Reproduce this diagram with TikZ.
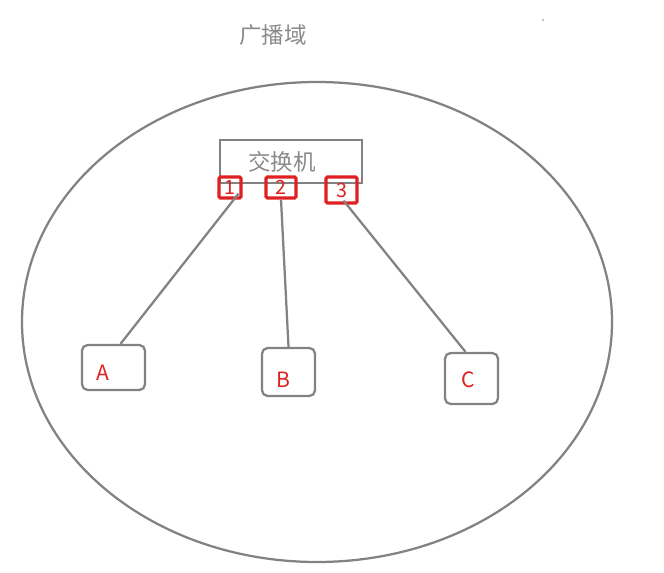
\documentclass[tikz,border=0pt]{standalone}
\usepackage{fontspec}
\setmainfont{Noto Sans CJK SC}
\usepackage{xcolor}
\usepackage{tikz}
\usetikzlibrary{positioning,calc}

\definecolor{linegray}{HTML}{828282}
\definecolor{textgray}{HTML}{8A8A8A}
\definecolor{portred}{HTML}{E02020}

\tikzset{
  host/.style={draw=linegray, line width=1.6pt, rounded corners=4pt, inner sep=0pt},
  hostlabel/.style={text=portred, inner sep=0pt, font=\fontsize{15}{17}\selectfont},
  port/.style={draw=portred, line width=2.2pt, rounded corners=1pt, inner sep=0pt,
    text=portred, font=\fontsize{14}{16}\selectfont},
  link/.style={draw=linegray, line width=1.6pt}
}

\begin{document}
\begin{tikzpicture}[x=0.025cm, y=-0.025cm]
  \useasboundingbox (0,0) rectangle (664,572);

  % Broadcast domain
  \draw[linegray, line width=1.6pt] (317,322) ellipse [x radius=295, y radius=240];
  \node[text=textgray, font=\fontsize{16}{18}\selectfont] (title) at (273,35) {广播域};
  \fill[linegray] (543,20) circle (0.7pt);

  % Switch
  \node[draw=linegray, line width=1.6pt, minimum width=3.55cm, minimum height=1.075cm,
    inner sep=0pt] (sw) at (291,161.5) {};
  \node[text=textgray, font=\fontsize{16}{18}\selectfont] (swlabel) at (282,162) {交换机};

  % Ports
  \node[port, minimum width=0.55cm, minimum height=0.525cm] (p1) at (230,187.5) {1};
  \node[port, minimum width=0.75cm, minimum height=0.525cm] (p2) at (281,187.5) {2};
  \node[port, minimum width=0.775cm, minimum height=0.65cm] (p3) at (341.5,190) {3};

  % Hosts
  \node[host, minimum width=1.575cm, minimum height=1.125cm] (hA) at (113.5,367.5) {};
  \node[host, minimum width=1.325cm, minimum height=1.2cm] (hB) at (288.5,372) {};
  \node[host, minimum width=1.325cm, minimum height=1.275cm] (hC) at (471.5,378.5) {};
  \node[hostlabel] (lA) at (103,373) {A};
  \node[hostlabel] (lB) at (283,380) {B};
  \node[hostlabel] (lC) at (468,380) {C};

  % Links
  \draw[link] ($(p1.south east)+(-4,-6)$) -- ($(hA.north)+(7,0)$);
  \draw[link] (p2.south) -- (hB.north);
  \draw[link] ($(p3.south)+(2,-4)$) -- ($(hC.north)+(-6,0)$);
\end{tikzpicture}
\end{document}
